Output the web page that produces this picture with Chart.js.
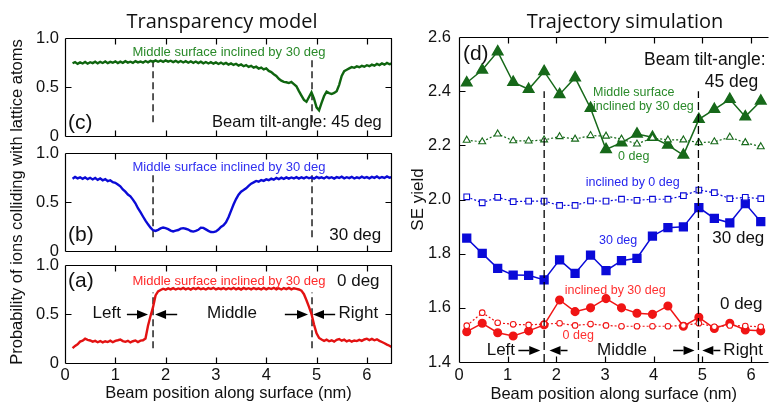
<!DOCTYPE html>
<html><head><meta charset="utf-8">
<script src="https://cdn.jsdelivr.net/npm/chart.js@4.4.0/dist/chart.umd.min.js"></script>
<style>
html,body{margin:0;padding:0;background:#fff;}
#wrap{position:relative;width:776px;height:404px;overflow:hidden;background:#fff;}
canvas{position:absolute;left:0;top:0;}
.ttl{position:absolute;font-family:'Open Sans';font-size:20px;color:#111;transform:translate(-50%,-50%);white-space:nowrap;}
</style></head><body>
<div id="wrap">
<canvas id="cC" width="776" height="404"></canvas>
<canvas id="cB" width="776" height="404"></canvas>
<canvas id="cA" width="776" height="404"></canvas>
<canvas id="cD" width="776" height="404"></canvas>
<div class="ttl" style="left:222px;top:20px">Transparency model</div>
<div class="ttl" style="left:625px;top:20px">Trajectory simulation</div>
</div>
<script>
// ---------- Transparency model (left) ----------
const beamPositions = [
0.15,0.2,0.25,0.3,0.35,0.4,0.45,0.5,0.55,0.6,
0.65,0.7,0.75,0.8,0.85,0.9,0.95,1,1.05,1.1,
1.15,1.2,1.25,1.3,1.35,1.4,1.45,1.5,1.55,1.6,
1.65,1.7,1.75,1.8,1.85,1.9,1.95,2,2.05,2.1,
2.15,2.2,2.25,2.3,2.35,2.4,2.45,2.5,2.55,2.6,
2.65,2.7,2.75,2.8,2.85,2.9,2.95,3,3.05,3.1,
3.15,3.2,3.25,3.3,3.35,3.4,3.45,3.5,3.55,3.6,
3.65,3.7,3.75,3.8,3.85,3.9,3.95,4,4.05,4.1,
4.15,4.2,4.25,4.3,4.35,4.4,4.45,4.5,4.55,4.6,
4.65,4.7,4.75,4.8,4.85,4.9,4.95,5,5.05,5.1,
5.15,5.2,5.25,5.3,5.35,5.4,5.45,5.5,5.55,5.6,
5.65,5.7,5.75,5.8,5.85,5.9,5.95,6,6.05,6.1,
6.15,6.2,6.25,6.3,6.35,6.4,6.45,6.5];

const probTilt45 = [
0.742,0.754,0.736,0.751,0.740,0.756,0.738,0.753,0.744,0.758,
0.741,0.757,0.745,0.760,0.743,0.756,0.748,0.762,0.744,0.759,
0.747,0.763,0.749,0.758,0.746,0.764,0.751,0.760,0.748,0.765,
0.752,0.766,0.757,0.772,0.758,0.770,0.756,0.771,0.759,0.768,
0.754,0.767,0.752,0.765,0.750,0.763,0.748,0.762,0.747,0.760,
0.744,0.758,0.742,0.755,0.740,0.753,0.738,0.751,0.735,0.749,
0.733,0.746,0.729,0.741,0.725,0.737,0.719,0.730,0.712,0.724,
0.705,0.716,0.697,0.707,0.688,0.698,0.680,0.690,0.664,0.652,
0.630,0.612,0.584,0.565,0.552,0.548,0.540,0.551,0.530,0.508,
0.458,0.412,0.368,0.350,0.398,0.446,0.382,0.292,0.262,0.338,
0.408,0.452,0.438,0.428,0.440,0.458,0.522,0.614,0.662,0.676,
0.690,0.703,0.696,0.710,0.702,0.716,0.707,0.722,0.712,0.728,
0.718,0.735,0.724,0.741,0.728,0.745,0.732,0.740];

const probTilt30 = [
0.738,0.755,0.741,0.752,0.736,0.750,0.733,0.747,0.730,0.745,
0.726,0.740,0.722,0.734,0.712,0.722,0.702,0.696,0.678,0.660,
0.628,0.605,0.576,0.558,0.524,0.487,0.437,0.396,0.352,0.310,
0.272,0.238,0.212,0.205,0.216,0.230,0.240,0.233,0.223,0.208,
0.199,0.207,0.214,0.228,0.233,0.227,0.219,0.204,0.198,0.205,
0.216,0.238,0.236,0.221,0.206,0.194,0.193,0.200,0.219,0.246,
0.262,0.292,0.345,0.410,0.475,0.530,0.575,0.605,0.622,0.640,
0.665,0.687,0.700,0.715,0.707,0.724,0.716,0.731,0.722,0.738,
0.728,0.745,0.733,0.748,0.736,0.751,0.738,0.750,0.740,0.754,
0.739,0.752,0.741,0.755,0.742,0.751,0.738,0.756,0.743,0.752,
0.740,0.757,0.744,0.753,0.739,0.754,0.745,0.758,0.742,0.753,
0.744,0.757,0.740,0.752,0.743,0.759,0.745,0.754,0.741,0.756,
0.746,0.760,0.743,0.755,0.745,0.761,0.747,0.756];

const probTilt0 = [
0.152,0.175,0.190,0.218,0.228,0.248,0.236,0.230,0.218,0.226,
0.212,0.224,0.210,0.222,0.214,0.228,0.212,0.226,0.232,0.240,
0.224,0.216,0.226,0.210,0.222,0.230,0.214,0.228,0.232,0.250,
0.380,0.480,0.570,0.690,0.730,0.745,0.758,0.748,0.762,0.751,
0.764,0.750,0.761,0.753,0.766,0.752,0.763,0.749,0.765,0.754,
0.766,0.752,0.762,0.750,0.764,0.755,0.767,0.751,0.762,0.754,
0.765,0.751,0.763,0.753,0.767,0.752,0.764,0.750,0.766,0.754,
0.763,0.751,0.765,0.753,0.762,0.750,0.766,0.752,0.764,0.755,
0.767,0.752,0.763,0.750,0.765,0.754,0.766,0.751,0.763,0.757,
0.750,0.738,0.702,0.640,0.572,0.500,0.392,0.302,0.256,0.240,
0.226,0.238,0.222,0.232,0.218,0.236,0.244,0.228,0.238,0.220,
0.232,0.218,0.230,0.224,0.236,0.226,0.240,0.248,0.234,0.246,
0.232,0.242,0.226,0.214,0.202,0.188,0.176,0.160];

const boundaryPositions = [1.75, 4.91];   // dashed boundaries (nm)
const probTicks = [0, 0.5, 1.0];
const nmTicks = [0, 1, 2, 3, 4, 5, 6];

// ---------- Trajectory simulation (right) ----------
const simPositions = [0.159,0.477,0.795,1.113,1.431,1.749,2.067,2.385,2.703,3.021,3.339,3.657,3.975,4.293,4.611,4.929,5.247,5.565,5.883,6.201];
const seTilt45Incl30 = [2.431,2.478,2.546,2.433,2.407,2.473,2.388,2.450,2.337,2.185,2.210,2.242,2.230,2.201,2.164,2.296,2.333,2.370,2.306,2.364];
const seTilt45Incl0  = [2.219,2.213,2.242,2.217,2.216,2.220,2.232,2.223,2.236,2.234,2.223,2.205,2.227,2.220,2.220,2.210,2.213,2.230,2.210,2.195];
const seTilt30Incl30 = [1.857,1.801,1.746,1.721,1.720,1.703,1.777,1.727,1.795,1.737,1.774,1.783,1.865,1.896,1.899,1.970,1.930,1.914,1.985,1.918];
const seTilt30Incl0  = [2.010,1.988,2.008,1.992,1.994,1.994,1.978,1.978,1.995,1.994,2.001,1.997,2.001,2.001,2.014,2.035,2.025,2.003,2.008,2.003];
const seTilt0Incl30  = [1.512,1.543,1.508,1.496,1.515,1.537,1.629,1.586,1.600,1.634,1.600,1.580,1.576,1.607,1.532,1.565,1.524,1.543,1.518,1.515];
const seTilt0Incl0   = [1.534,1.582,1.545,1.539,1.537,1.540,1.543,1.535,1.540,1.535,1.532,1.532,1.532,1.532,1.535,1.543,1.530,1.535,1.533,1.530];
const simBoundaries = [1.75, 4.92];
const seTicks = [1.4,1.6,1.8,2.0,2.2,2.4,2.6];

// ---------- helpers ----------
const FONT = "'Liberation Sans', Arial, sans-serif";
Chart.defaults.font.family = FONT;
Chart.defaults.color = '#111';

const pts = (xs, ys) => xs.map((x, i) => ({x, y: ys[i]}));
const vline = (x, y0, y1, w, dash) => ({data:[{x, y:y0},{x, y:y1}], borderColor:'#000', borderWidth:w, borderDash:dash, pointRadius:0, fill:false});

function framePlugin(f) {
  return { id:'frame', afterDatasetsDraw(chart) {
    const {ctx, chartArea:a, scales:{x, y}} = chart;
    const r = v => Math.round(v) + 0.5;
    ctx.save();
    ctx.strokeStyle = '#000'; ctx.lineWidth = 1.2;
    ctx.beginPath();
    const L = r(a.left), R = r(a.right - 1), T = r(a.top), B = r(a.bottom);
    if (f.top) { ctx.moveTo(L, T); ctx.lineTo(a.right, T); }
    if (f.bottom) { ctx.moveTo(L, B); ctx.lineTo(a.right, B); }
    if (f.left) { ctx.moveTo(L, T); ctx.lineTo(L, B); }
    if (f.right) { ctx.moveTo(R, T); ctx.lineTo(R, B); }
    const tl = 6;
    (f.xTicks || []).forEach(v => {
      const px = r(x.getPixelForValue(v));
      ctx.moveTo(px, B); ctx.lineTo(px, B - tl);
      if (f.top) { ctx.moveTo(px, T); ctx.lineTo(px, T + tl); }
    });
    (f.yTicks || []).forEach(v => {
      const py = r(y.getPixelForValue(v));
      ctx.moveTo(L, py); ctx.lineTo(L + tl, py);
      if (f.right) { ctx.moveTo(R, py); ctx.lineTo(R - tl, py); }
    });
    ctx.stroke();
    ctx.restore();
  }};
}

function annoPlugin(an) {
  return { id:'anno', afterDatasetsDraw(chart) {
    const {ctx, scales:{x, y}} = chart;
    ctx.save();
    ctx.textBaseline = 'middle';
    (an.texts || []).forEach(t => {
      ctx.font = t.font; ctx.fillStyle = t.color || '#111'; ctx.textAlign = t.align || 'center';
      ctx.fillText(t.text, x.getPixelForValue(t.x), y.getPixelForValue(t.y));
    });
    ctx.strokeStyle = '#000'; ctx.fillStyle = '#000'; ctx.lineWidth = 1.5;
    (an.arrows || []).forEach(a => {
      const x1 = x.getPixelForValue(a.from), x2 = x.getPixelForValue(a.to), py = Math.round(y.getPixelForValue(a.y)) + 0.5;
      const d = Math.sign(x2 - x1), hl = 11, hw = 4.5;
      ctx.beginPath(); ctx.moveTo(x1, py); ctx.lineTo(x2 - d*hl, py); ctx.stroke();
      ctx.beginPath(); ctx.moveTo(x2, py); ctx.lineTo(x2 - d*hl, py - hw); ctx.lineTo(x2 - d*hl, py + hw); ctx.closePath(); ctx.fill();
    });
    ctx.restore();
  }};
}

function makeChart(id, c) {
  return new Chart(document.getElementById(id), {
    type: 'line',
    data: { datasets: c.datasets },
    options: {
      responsive: false, animation: false, events: [],
      layout: { padding: c.padding },
      plugins: { legend:{display:false}, tooltip:{enabled:false} },
      scales: {
        x: { type:'linear', min:c.xMin, max:c.xMax, display:c.xShow,
             grid:{display:false, drawTicks:false}, border:{display:false},
             afterBuildTicks: s => { s.ticks = c.xTicks.map(v => ({value:v})); },
             ticks:{ padding:c.xTickPad, maxRotation:0, autoSkip:false, font:{size:16.5}, color:'#111' },
             title:{ display:true, text:'Beam position along surface (nm)', font:{size:16.5}, color:'#111', padding:{top:0,bottom:c.xTitlePad} },
             afterFit: s => { s.height = c.xHeight; } },
        y: { type:'linear', min:c.yMin, max:c.yMax,
             grid:{display:false, drawTicks:false}, border:{display:false},
             afterBuildTicks: s => { s.ticks = c.yTicks.map(v => ({value:v})); },
             ticks:{ padding:c.yTickPad, font:{size:16.5}, color:'#111', callback: v => v === 0 ? '0' : v.toFixed(1) },
             title:{ display:!!c.yTitle, text:c.yTitle || '', font:{size:c.yTitleSize || 16.5}, color:'#111', padding:{top:c.yTitlePad || 0, bottom:0} },
             afterFit: s => { s.width = c.yWidth; } }
      }
    },
    plugins: [framePlugin(c.frame), annoPlugin(c.anno)]
  });
}

const F13 = "13px " + FONT, F12 = "12.5px " + FONT, F16 = "16.5px " + FONT, F17 = "17px " + FONT, F18 = "17.5px " + FONT, F21 = "21px " + FONT;
const leftFrame = {top:true, bottom:true, left:true, right:true, xTicks:[1,2,3,4,5,6], yTicks:[0.5]};

// (c) tilt 45
makeChart('cC', {
  datasets: [
    {data:pts(beamPositions, probTilt45), borderColor:'#0f650f', borderWidth:2.4, pointRadius:0},
    vline(boundaryPositions[0], 0.14, 0.80, 1.3, [7,4]),
    vline(boundaryPositions[1], 0.14, 0.80, 1.3, [7,4])
  ],
  padding:{left:0, top:38, right:384, bottom:268}, xMin:0, xMax:6.5, xShow:false, xTicks:nmTicks, xHeight:0, xTickPad:0, xTitlePad:0,
  yMin:0, yMax:1, yTicks:probTicks, yTickPad:6, yWidth:65,
  frame: leftFrame,
  anno: { texts:[
    {text:'Middle surface inclined by 30 deg', x:3.26, y:0.85, font:F13, color:'#2a8a2a'},
    {text:'(c)', x:0.06, y:0.135, font:F21, align:'left'},
    {text:'Beam tilt-angle: 45 deg', x:4.61, y:0.135, font:F16}
  ]}
});

// (b) tilt 30
makeChart('cB', {
  datasets: [
    {data:pts(beamPositions, probTilt30), borderColor:'#0b0bd6', borderWidth:2.4, pointRadius:0},
    vline(boundaryPositions[0], 0.14, 0.80, 1.3, [7,4]),
    vline(boundaryPositions[1], 0.14, 0.80, 1.3, [7,4])
  ],
  padding:{left:0, top:153, right:384, bottom:153}, xMin:0, xMax:6.5, xShow:false, xTicks:nmTicks, xHeight:0, xTickPad:0, xTitlePad:0,
  yMin:0, yMax:1, yTicks:probTicks, yTickPad:6, yWidth:65,
  yTitle:'Probability of ions colliding with lattice atoms', yTitlePad:8,
  frame: leftFrame,
  anno: { texts:[
    {text:'Middle surface inclined by 30 deg', x:3.26, y:0.855, font:F13, color:'#3030f0'},
    {text:'(b)', x:0.06, y:0.165, font:F21, align:'left'},
    {text:'30 deg', x:5.77, y:0.165, font:F17}
  ]}
});

// (a) tilt 0
makeChart('cA', {
  datasets: [
    {data:pts(beamPositions, probTilt0), borderColor:'#e31212', borderWidth:2.4, pointRadius:0},
    vline(boundaryPositions[0], 0.15, 0.72, 1.3, [7,4]),
    vline(boundaryPositions[1], 0.15, 0.72, 1.3, [7,4])
  ],
  padding:{left:0, top:265, right:384, bottom:0}, xMin:0, xMax:6.5, xShow:true, xTicks:nmTicks, xHeight:41, xTickPad:3, xTitlePad:1,
  yMin:0, yMax:1, yTicks:probTicks, yTickPad:6, yWidth:65,
  frame: leftFrame,
  anno: { texts:[
    {text:'(a)', x:0.06, y:0.83, font:F21, align:'left'},
    {text:'Middle surface inclined by 30 deg', x:3.26, y:0.83, font:F13, color:'#ff2a2a'},
    {text:'0 deg', x:5.83, y:0.83, font:F17},
    {text:'Left', x:0.83, y:0.51, font:F17},
    {text:'Middle', x:3.32, y:0.51, font:F17},
    {text:'Right', x:5.83, y:0.51, font:F17}
  ], arrows:[
    {from:1.23, to:1.65, y:0.5}, {from:2.23, to:1.79, y:0.5},
    {from:4.37, to:4.83, y:0.5}, {from:5.37, to:4.93, y:0.5}
  ]}
});

// (d) trajectory simulation
const GREEN = '#17691a', BLUE = '#0a0ad8', RED = '#f01515';
makeChart('cD', {
  datasets: [
    vline(simBoundaries[0], 1.4, 2.4, 1.3, [8,4]),
    vline(simBoundaries[1], 1.4, 2.4, 1.3, [8,4]),
    {data:pts(simPositions, seTilt0Incl0), borderColor:RED, borderWidth:1.2, borderDash:[2,2], pointStyle:'circle', pointRadius:2.8, pointBackgroundColor:'#fff', pointBorderColor:RED, pointBorderWidth:1.1},
    {data:pts(simPositions, seTilt0Incl30), borderColor:RED, borderWidth:1.5, pointStyle:'circle', pointRadius:3.8, pointBackgroundColor:RED, pointBorderColor:RED},
    {data:pts(simPositions, seTilt30Incl0), borderColor:BLUE, borderWidth:1.2, borderDash:[2,2], pointStyle:'rect', pointRadius:4, pointBackgroundColor:'#fff', pointBorderColor:BLUE, pointBorderWidth:1.1},
    {data:pts(simPositions, seTilt30Incl30), borderColor:BLUE, borderWidth:1.5, pointStyle:'rect', pointRadius:5.5, pointBackgroundColor:BLUE, pointBorderColor:BLUE},
    {data:pts(simPositions, seTilt45Incl0), borderColor:GREEN, borderWidth:1.2, borderDash:[2,2], pointStyle:'triangle', pointRadius:4, pointBackgroundColor:'#fff', pointBorderColor:GREEN, pointBorderWidth:1.1},
    {data:pts(simPositions, seTilt45Incl30), borderColor:GREEN, borderWidth:1.5, pointStyle:'triangle', pointRadius:6, pointBackgroundColor:GREEN, pointBorderColor:GREEN}
  ],
  padding:{left:395, top:37, right:0, bottom:0}, xMin:0, xMax:6.36, xShow:true, xTicks:nmTicks, xHeight:42, xTickPad:4, xTitlePad:0,
  yMin:1.4, yMax:2.6, yTicks:seTicks, yTickPad:8, yWidth:64,
  yTitle:'SE yield', yTitlePad:13, yTitleSize:17,
  frame: {top:true, bottom:true, left:true, right:false, xTicks:[1,2,3,4,5,6], yTicks:[1.6,1.8,2.0,2.2,2.4]},
  anno: { texts:[
    {text:'(d)', x:0.08, y:2.537, font:F21, align:'left'},
    {text:'Beam tilt-angle:', x:6.30, y:2.515, font:F18, align:'right'},
    {text:'45 deg', x:5.60, y:2.434, font:F18},
    {text:'Middle surface', x:3.59, y:2.394, font:F12, color:'#2a8a2a'},
    {text:'inclined by 30 deg', x:3.79, y:2.342, font:F12, color:'#2a8a2a'},
    {text:'0 deg', x:3.59, y:2.157, font:F12, color:'#2a8a2a'},
    {text:'inclined by 0 deg', x:3.57, y:2.061, font:F12, color:'#2525ee'},
    {text:'30 deg', x:3.27, y:1.850, font:F12, color:'#2525ee'},
    {text:'30 deg', x:5.74, y:1.858, font:F17},
    {text:'inclined by 30 deg', x:3.21, y:1.662, font:F12, color:'#ff3030'},
    {text:'0 deg', x:2.45, y:1.496, font:F12, color:'#ff3030'},
    {text:'0 deg', x:5.80, y:1.614, font:F17},
    {text:'Left', x:0.86, y:1.444, font:F17},
    {text:'Middle', x:3.35, y:1.444, font:F17},
    {text:'Right', x:5.84, y:1.444, font:F17}
  ], arrows:[
    {from:1.22, to:1.67, y:1.444}, {from:2.23, to:1.86, y:1.444},
    {from:4.40, to:4.84, y:1.444}, {from:5.37, to:5.00, y:1.444}
  ]}
});
</script>
</body></html>
